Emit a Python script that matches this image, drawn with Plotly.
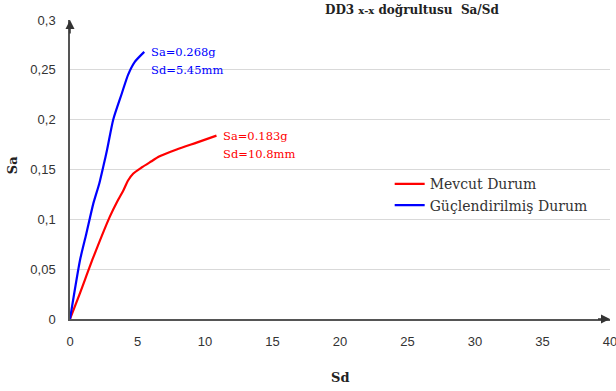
import plotly.graph_objects as go

# Data
sd_mevcut = [0, 0.74, 1.73, 2.96, 3.5, 3.95, 4.3, 4.69, 5.3, 6.0, 6.6, 7.9, 9.38, 10.85]
sa_mevcut = [0, 0.026, 0.062, 0.103, 0.118, 0.129, 0.139, 0.146, 0.152, 0.158, 0.163, 0.170, 0.177, 0.184]
sd_guc = [0, 0.74, 1.2, 1.73, 2.17, 2.5, 2.75, 3.2, 3.83, 4.3, 4.8, 5.5]
sa_guc = [0, 0.059, 0.085, 0.116, 0.136, 0.155, 0.170, 0.200, 0.226, 0.245, 0.258, 0.268]

x_ticks = [0, 5, 10, 15, 20, 25, 30, 35, 40]
y_ticks = [0, 0.05, 0.1, 0.15, 0.2, 0.25, 0.3]
y_labels = ["0", "0,05", "0,1", "0,15", "0,2", "0,25", "0,3"]

serif = "DejaVu Serif"
sans = "Liberation Sans"

fig = go.Figure()
fig.add_trace(go.Scatter(x=sd_mevcut, y=sa_mevcut, mode="lines", name="Mevcut Durum",
                         line=dict(color="#ff0000", width=2.2, shape="spline", smoothing=0.6)))
fig.add_trace(go.Scatter(x=sd_guc, y=sa_guc, mode="lines", name="Güçlendirilmiş Durum",
                         line=dict(color="#0000ff", width=2.2, shape="spline", smoothing=0.6)))

# value annotations (one line each)
for txt, ys in (("Sa=0.268g", 0), ("Sd=5.45mm", -18)):
    fig.add_annotation(x=sd_guc[-1], y=sa_guc[-1], text=txt, showarrow=False,
                       xanchor="left", yanchor="middle", xshift=5, yshift=ys, align="left",
                       font=dict(family=serif, size=11.5, color="#0000ff"))
for txt, ys in (("Sa=0.183g", 0), ("Sd=10.8mm", -18)):
    fig.add_annotation(x=sd_mevcut[-1], y=sa_mevcut[-1], text=txt, showarrow=False,
                       xanchor="left", yanchor="middle", xshift=5, yshift=ys, align="left",
                       font=dict(family=serif, size=11.5, color="#ff0000"))

# axis arrows
fig.add_annotation(x=0, y=0.3, ax=0, ay=0.285, xref="x", yref="y", axref="x", ayref="y",
                   showarrow=True, arrowhead=2, arrowsize=1.2, arrowwidth=1.5, arrowcolor="#333333", text="")
fig.add_annotation(x=40, y=0, ax=39.0, ay=0, xref="x", yref="y", axref="x", ayref="y",
                   showarrow=True, arrowhead=2, arrowsize=1.2, arrowwidth=1.5, arrowcolor="#333333", text="")

# title and axis titles
fig.add_annotation(x=0.633, y=1.033, xref="paper", yref="paper", showarrow=False,
                   xanchor="center", yanchor="middle",
                   text="<b>DD3 <span style='font-size:10px'>x-x</span> doğrultusu  Sa/Sd</b>",
                   font=dict(family=serif, size=12, color="#222222"))
fig.add_annotation(x=-0.107, y=0.515, xref="paper", yref="paper", showarrow=False,
                   xanchor="center", yanchor="middle", textangle=-90,
                   text="<b>Sa</b>", font=dict(family=serif, size=13, color="#222222"))
fig.add_annotation(x=0.5, y=-0.194, xref="paper", yref="paper", showarrow=False,
                   xanchor="center", yanchor="middle",
                   text="<b>Sd</b>", font=dict(family=serif, size=13, color="#222222"))

fig.update_layout(
    width=616, height=391,
    margin=dict(l=70, r=6, t=20, b=72),
    paper_bgcolor="white", plot_bgcolor="white",
    showlegend=True,
    legend=dict(x=0.592, y=0.504, xanchor="left", yanchor="top", bgcolor="rgba(0,0,0,0)",
                font=dict(family=serif, size=14, color="#333333"), tracegroupgap=0,
                itemwidth=30),
    xaxis=dict(range=[0, 40], tickvals=x_ticks, showgrid=False, zeroline=False,
               showline=True, linecolor="#555555", linewidth=2, automargin=False,
               ticks="", ticklabelstandoff=9, ticklabeloverflow="allow",
               tickfont=dict(family=sans, size=13, color="#333333")),
    yaxis=dict(range=[0, 0.3], tickvals=y_ticks, ticktext=y_labels, showgrid=True,
               gridcolor="#d9d9d9", gridwidth=1, zeroline=False, automargin=False,
               showline=True, linecolor="#555555", linewidth=1.5,
               ticks="", ticklabelstandoff=10, tickfont=dict(family=sans, size=13, color="#333333")),
)
fig.write_html("out.html", config={"displayModeBar": False},
               post_script="document.body.style.margin='0px';")
